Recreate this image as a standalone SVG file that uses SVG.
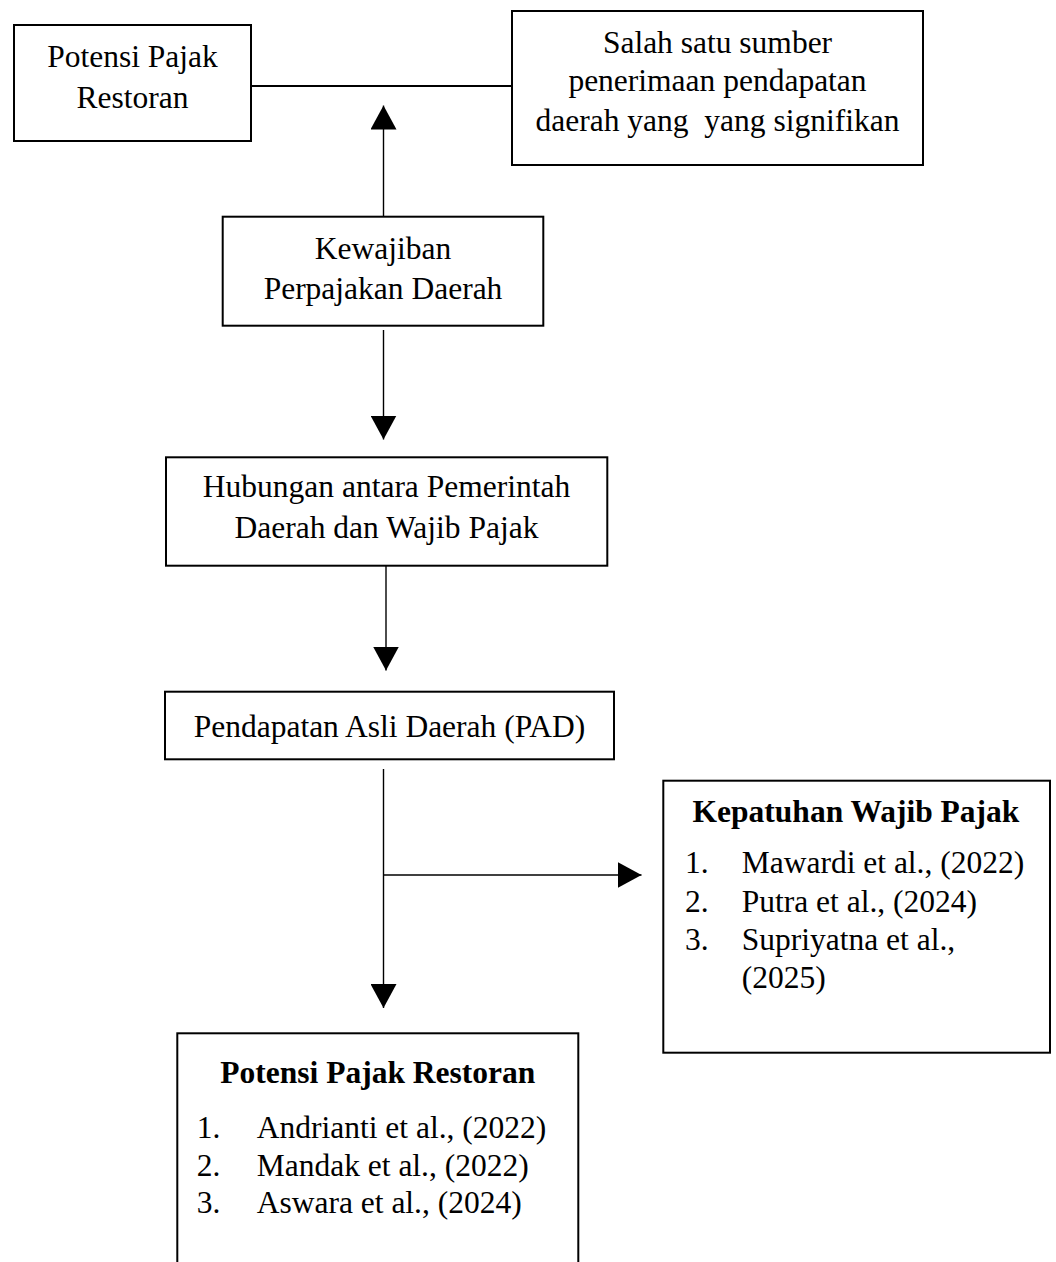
<svg xmlns="http://www.w3.org/2000/svg" width="1056" height="1262" viewBox="0 0 1056 1262">
<style>
  .box { fill: #fff; stroke: #000; stroke-width: 2; }
  .t { font-family: "Liberation Serif", "Times New Roman", serif; font-size: 31.5px; fill: #000; }
  .c { text-anchor: middle; }
  .b { font-weight: bold; }
  .conn { stroke: #000; stroke-width: 1.4; fill: none; }
  .thick { stroke-width: 2.2; }
</style>
<defs>
  <marker id="ah" markerUnits="userSpaceOnUse" markerWidth="24" markerHeight="26" refX="24" refY="13" orient="auto">
    <path d="M0,0 L24,13 L0,26 z" fill="#000"/>
  </marker>
</defs>
<rect width="1056" height="1262" fill="#fff"/>

<g id="connectors">
  <line class="conn thick" x1="251" y1="86" x2="512" y2="86"/>
  <line class="conn" x1="383.5" y1="216.7" x2="383.5" y2="105.5" marker-end="url(#ah)"/>
  <line class="conn" x1="383.5" y1="330" x2="383.5" y2="439.5" marker-end="url(#ah)"/>
  <line class="conn" x1="386" y1="566" x2="386" y2="670.5" marker-end="url(#ah)"/>
  <line class="conn" x1="383.5" y1="769" x2="383.5" y2="1008" marker-end="url(#ah)"/>
  <line class="conn" x1="384" y1="875" x2="641.5" y2="875" marker-end="url(#ah)"/>
</g>

<g id="node-potensi-top">
  <rect class="box" x="14" y="25" width="237" height="116"/>
  <text class="t c" x="132.5" y="67">Potensi Pajak</text>
  <text class="t c" x="132.5" y="108">Restoran</text>
</g>

<g id="node-salah-satu">
  <rect class="box" x="512" y="11" width="411" height="154"/>
  <text class="t c" x="717.5" y="52.5">Salah satu sumber</text>
  <text class="t c" x="717.5" y="91">penerimaan pendapatan</text>
  <text class="t c" x="717.5" y="130.5" xml:space="preserve">daerah yang  yang signifikan</text>
</g>

<g id="node-kewajiban">
  <rect class="box" x="222.7" y="216.7" width="320.6" height="109"/>
  <text class="t c" x="383" y="259">Kewajiban</text>
  <text class="t c" x="383" y="299">Perpajakan Daerah</text>
</g>

<g id="node-hubungan">
  <rect class="box" x="166" y="457.3" width="441.3" height="108.4"/>
  <text class="t c" x="386.5" y="497">Hubungan antara Pemerintah</text>
  <text class="t c" x="386.5" y="538">Daerah dan Wajib Pajak</text>
</g>

<g id="node-pad">
  <rect class="box" x="165" y="691.7" width="449" height="67.6"/>
  <text class="t c" x="389.5" y="737">Pendapatan Asli Daerah (PAD)</text>
</g>

<g id="node-kepatuhan">
  <rect class="box" x="663.3" y="780.7" width="386.7" height="272"/>
  <text class="t c b" x="856" y="821.7">Kepatuhan Wajib Pajak</text>
  <text class="t" x="685" y="873">1.</text>
  <text class="t" x="741.7" y="873">Mawardi et al., (2022)</text>
  <text class="t" x="685" y="911.7">2.</text>
  <text class="t" x="741.7" y="911.7">Putra et al., (2024)</text>
  <text class="t" x="685" y="950">3.</text>
  <text class="t" x="741.7" y="950">Supriyatna et al.,</text>
  <text class="t" x="741.7" y="988">(2025)</text>
</g>

<g id="node-potensi-bottom">
  <rect class="box" x="177.3" y="1033.3" width="401" height="240"/>
  <text class="t c b" x="377.8" y="1083.3">Potensi Pajak Restoran</text>
  <text class="t" x="196.7" y="1138">1.</text>
  <text class="t" x="256.7" y="1138">Andrianti et al., (2022)</text>
  <text class="t" x="196.7" y="1176">2.</text>
  <text class="t" x="256.7" y="1176">Mandak et al., (2022)</text>
  <text class="t" x="196.7" y="1213">3.</text>
  <text class="t" x="256.7" y="1213">Aswara et al., (2024)</text>
</g>
</svg>
